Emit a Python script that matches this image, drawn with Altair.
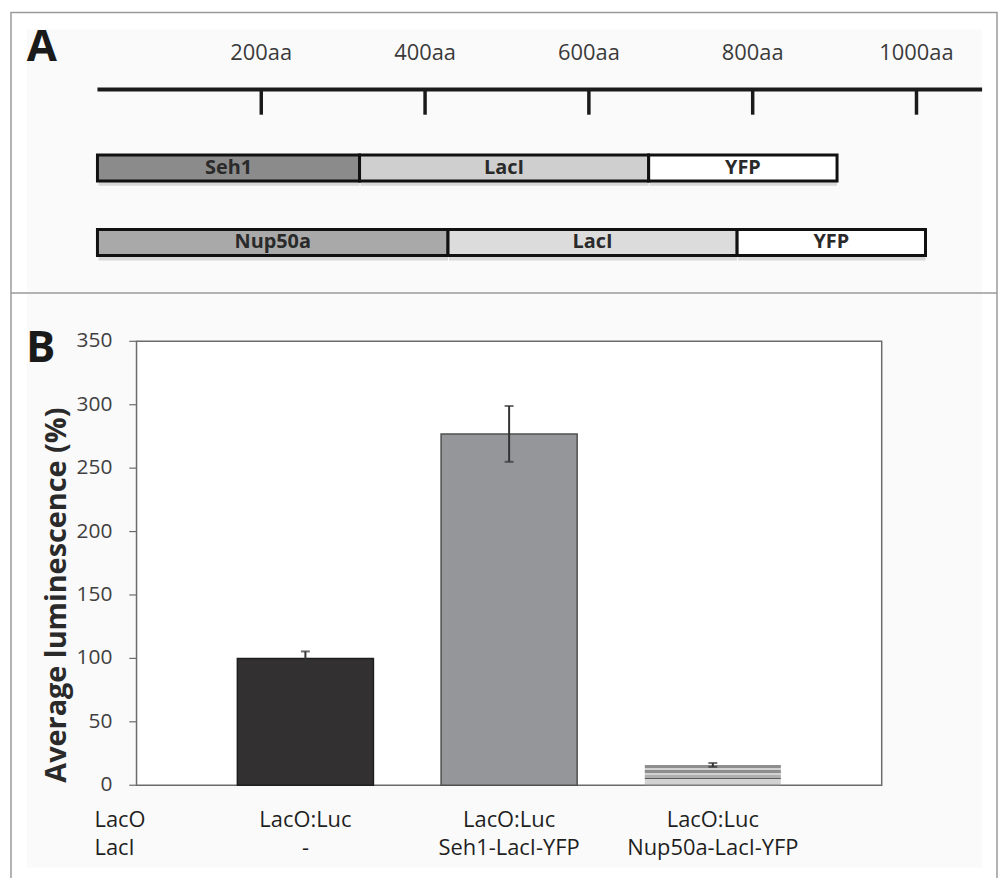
import altair as alt
import pandas as pd

FONT = "Open Sans"

# ---------------- Panel A data ----------------
ruler_ticks = [200, 400, 600, 800, 1000]
constructs = ["Seh1-LacI-YFP", "Nup50a-LacI-YFP"]
seh1_domains = ["Seh1", "LacI", "YFP"]
seh1_lengths = [320, 353, 230]
seh1_colors = ["#8b8b8b", "#cfcfcf", "#ffffff"]
nup_domains = ["Nup50a", "LacI", "YFP"]
nup_lengths = [428, 353, 230]
nup_colors = ["#a9a9a9", "#dcdcdc", "#ffffff"]

# ---------------- Panel B data ----------------
conditions = ["ctrl", "seh1", "nup50a"]
lacO_labels = ["LacO:Luc", "LacO:Luc", "LacO:Luc"]
lacI_labels = ["-", "Seh1-LacI-YFP", "Nup50a-LacI-YFP"]
means = [100, 277, 16]
errors = [5.5, 22, 1.5]
bar_fills = ["#323031", "#95969a", "stripes"]
bar_strokes = ["#1e1e1e", "#505050", "#9a9a9a"]
y_ticks = [0, 50, 100, 150, 200, 250, 300, 350]
row_headers = ["LacO", "LacI"]

# ---------------- tables ----------------
rows = []
for cons, doms, lens, cols in [
    (constructs[0], seh1_domains, seh1_lengths, seh1_colors),
    (constructs[1], nup_domains, nup_lengths, nup_colors),
]:
    s = 0
    for d, l, c in zip(doms, lens, cols):
        rows.append({"construct": cons, "domain": d, "start": s, "end": s + l,
                     "mid": s + l / 2, "fill": c})
        s += l
seg = pd.DataFrame(rows)
ruler = pd.DataFrame({"aa": ruler_ticks, "label": [f"{t}aa" for t in ruler_ticks]})

bars = pd.DataFrame({"cat": conditions, "mean": means, "err": errors,
                     "fill": bar_fills, "stroke": bar_strokes,
                     "lacO": lacO_labels, "lacI": lacI_labels})
bars["lo"] = bars["mean"] - bars["err"]
bars["hi"] = bars["mean"] + bars["err"]
yt = pd.DataFrame({"v": y_ticks})
one = pd.DataFrame({"a": [0]})
hdr = pd.DataFrame({"h": row_headers, "row": [0, 1]})

# ---------------- scales ----------------
xA = alt.Scale(domain=[0, 1000], range=[90, 914])
yA = alt.Scale(type="band", domain=constructs, range=[145.3, 246.3],
               paddingInner=0.6533, paddingOuter=0)
xB = alt.Scale(type="band", domain=conditions, range=[129.3, 879],
               paddingInner=0.332, paddingOuter=0.495)
yB = alt.Scale(domain=[0, 350], range=[779.3, 332.7])

layers = []

# background / borders
layers.append(alt.Chart(one).mark_rect(fill="#fafafa").encode(
    x=alt.value(19), x2=alt.value(980), y=alt.value(19), y2=alt.value(862)))
layers.append(alt.Chart(one).mark_rect(fill=None, stroke="#9a9a9a", strokeWidth=1.5).encode(
    x=alt.value(3), x2=alt.value(995), y=alt.value(2), y2=alt.value(920)))
layers.append(alt.Chart(one).mark_rule(color="#9a9a9a", strokeWidth=1.5).encode(
    x=alt.value(3), x2=alt.value(995), y=alt.value(284)))

# ---------------- Panel A ----------------
layers.append(alt.Chart(one).mark_text(text="A", font=FONT, fontSize=44, fontWeight="bold",
                                       color="#1a1a1a", align="center", baseline="alphabetic").encode(
    x=alt.value(34), y=alt.value(51)))
layers.append(alt.Chart(one).mark_rule(color="#1a1a1a", strokeWidth=4).encode(
    x=alt.value(90), x2=alt.value(980), y=alt.value(79.3)))
layers.append(alt.Chart(ruler).mark_rule(color="#1a1a1a", strokeWidth=3.5).encode(
    x=alt.X("aa:Q", scale=xA, axis=None), y=alt.value(80), y2=alt.value(104.7)))
layers.append(alt.Chart(ruler).mark_text(font=FONT, fontSize=22, color="#3a3a3a",
                                         align="center", baseline="alphabetic").encode(
    x=alt.X("aa:Q", scale=xA, axis=None), y=alt.value(50), text="label:N"))

# shadow
layers.append(alt.Chart(seg).mark_bar(fill="#8a8a8a", opacity=0.3, yOffset=5, xOffset=1).encode(
    x=alt.X("start:Q", scale=xA, axis=None), x2="end:Q",
    y=alt.Y("construct:N", scale=yA, axis=None)))
layers.append(alt.Chart(seg).mark_bar(stroke="#111111", strokeWidth=3).encode(
    x=alt.X("start:Q", scale=xA, axis=None), x2="end:Q",
    y=alt.Y("construct:N", scale=yA, axis=None),
    fill=alt.Fill("fill:N", scale=None)))
layers.append(alt.Chart(seg).mark_text(font=FONT, fontSize=20, fontWeight="bold", color="#2a2a2a",
                                       align="center", baseline="middle").encode(
    x=alt.X("mid:Q", scale=xA, axis=None),
    y=alt.Y("construct:N", scale=yA, axis=None, bandPosition=0.5), text="domain:N"))

# ---------------- Panel B ----------------
layers.append(alt.Chart(one).mark_text(text="B", font=FONT, fontSize=44, fontWeight="bold",
                                       color="#1a1a1a", align="center", baseline="alphabetic").encode(
    x=alt.value(33), y=alt.value(354)))
layers.append(alt.Chart(one).mark_rect(fill="#ffffff", stroke="#6b6b6b", strokeWidth=1.5).encode(
    x=alt.value(129.3), x2=alt.value(879), y=alt.value(332.7), y2=alt.value(779.3)))
layers.append(alt.Chart(yt).mark_rule(color="#6b6b6b", strokeWidth=1.2).encode(
    y=alt.Y("v:Q", scale=yB, axis=None), x=alt.value(122), x2=alt.value(129.3)))
layers.append(alt.Chart(yt).mark_text(font=FONT, fontSize=21, color="#404040",
                                      align="right", baseline="middle").encode(
    y=alt.Y("v:Q", scale=yB, axis=None), x=alt.value(105), text="v:Q"))
layers.append(alt.Chart(one).mark_text(text="Average luminescence (%)", font=FONT, fontSize=29,
                                       fontWeight="bold", color="#2a2a2a", angle=270,
                                       align="center", baseline="middle").encode(
    x=alt.value(49.5), y=alt.value(588)))

solid = alt.Chart(bars).transform_filter(alt.datum.fill != "stripes").mark_bar(strokeWidth=1.5).encode(
    x=alt.X("cat:N", scale=xB, axis=None),
    y=alt.Y("mean:Q", scale=yB, axis=None),
    fill=alt.Fill("fill:N", scale=None),
    stroke=alt.Stroke("stroke:N", scale=None))
layers.append(solid)

dark, light, mid, darkest = "#8e8e8e", "#d2d2d2", "#b0b0b0", "#5a5a5a"
bands = [(0.0, 0.14, dark), (0.14, 0.26, light), (0.26, 0.42, dark), (0.42, 0.52, light),
         (0.52, 0.62, mid), (0.62, 0.70, darkest), (0.70, 0.92, light), (0.92, 1.0, "#a6a6a6")]
stops = []
for a, b, c in bands:
    stops.append(alt.GradientStop(offset=a, color=c))
    stops.append(alt.GradientStop(offset=b, color=c))
grad = alt.Gradient(gradient="linear", stops=stops, x1=0, x2=0, y1=0, y2=1)
striped = alt.Chart(bars).transform_filter(alt.datum.fill == "stripes").mark_bar(
    fill=grad, strokeWidth=0).encode(
    x=alt.X("cat:N", scale=xB, axis=None),
    y=alt.Y("mean:Q", scale=yB, axis=None))
layers.append(striped)

layers.append(alt.Chart(bars).mark_rule(color="#333333", strokeWidth=2).encode(
    x=alt.X("cat:N", scale=xB, axis=None),
    y=alt.Y("lo:Q", scale=yB, axis=None), y2="hi:Q"))
for fld in ["lo", "hi"]:
    layers.append(alt.Chart(bars).mark_tick(color="#333333", size=9, thickness=2).encode(
        x=alt.X("cat:N", scale=xB, axis=None),
        y=alt.Y(f"{fld}:Q", scale=yB, axis=None)))

# category labels
layers.append(alt.Chart(bars).mark_text(font=FONT, fontSize=22, color="#1f1f1f",
                                        align="center", baseline="middle").encode(
    x=alt.X("cat:N", scale=xB, axis=None, bandPosition=0.5), y=alt.value(814), text="lacO:N"))
layers.append(alt.Chart(bars).mark_text(font=FONT, fontSize=22, color="#1f1f1f",
                                        align="center", baseline="middle").encode(
    x=alt.X("cat:N", scale=xB, axis=None, bandPosition=0.5), y=alt.value(842), text="lacI:N"))
layers.append(alt.Chart(hdr).mark_text(font=FONT, fontSize=22, color="#1f1f1f",
                                       align="left", baseline="middle").encode(
    x=alt.value(87),
    y=alt.Y("row:Q", scale=alt.Scale(domain=[0, 1], range=[814, 842]), axis=None),
    text="h:N"))

chart = alt.layer(*layers).resolve_scale(x="independent", y="independent").properties(
    width=996, height=870, padding=0, autosize="none", background="#ffffff"
).configure_view(stroke=None)

chart.save("out.html", embed_options={"renderer": "svg", "actions": False})
